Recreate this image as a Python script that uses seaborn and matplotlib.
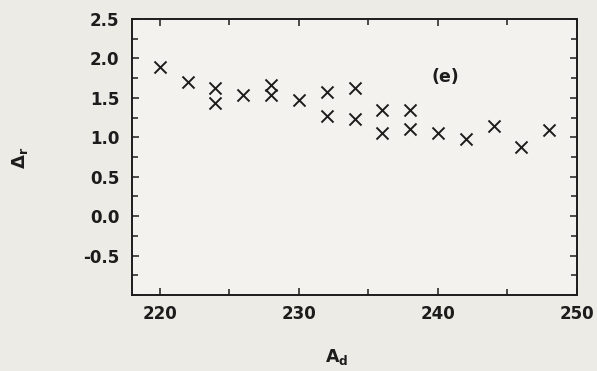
import matplotlib
matplotlib.use("Agg")
import matplotlib.pyplot as plt
import seaborn as sns
import pandas as pd
from matplotlib.ticker import MultipleLocator

mass_number = [220, 222, 224, 224, 226, 228, 228, 230, 232, 232, 234, 234,
               236, 236, 238, 238, 240, 242, 244, 246, 248]
delta_r = [1.89, 1.70, 1.63, 1.44, 1.54, 1.66, 1.54, 1.47, 1.57, 1.27, 1.62, 1.23,
           1.35, 1.05, 1.34, 1.10, 1.06, 0.98, 1.14, 0.88, 1.09]
x_ticks = [220, 230, 240, 250]
y_ticks = [-0.5, 0.0, 0.5, 1.0, 1.5, 2.0, 2.5]
panel_label = "(e)"

df = pd.DataFrame({"A": mass_number, "D": delta_r})

sns.set_theme(style="ticks")
plt.rcParams['font.family'] = ['DejaVu Sans']
plt.rcParams['mathtext.fontset'] = 'custom'
plt.rcParams['mathtext.rm'] = 'DejaVu Sans:bold'
plt.rcParams['mathtext.it'] = 'DejaVu Sans:bold'
plt.rcParams['mathtext.bf'] = 'DejaVu Sans:bold'

ink = '#1c1c1c'
fig = plt.figure(figsize=(5.97, 3.71), dpi=100, facecolor='#ecebe5')
ax = fig.add_axes([132/597, 1-295/371, (577-132)/597, (295-19)/371])
ax.set_facecolor('#f3f2ee')

sns.scatterplot(data=df, x="A", y="D", marker="x", s=75, color=ink,
                linewidth=1.4, ax=ax, legend=False)

ax.set_xlim(218, 250)
ax.set_ylim(-1.0, 2.5)
ax.set_xticks(x_ticks)
ax.set_yticks(y_ticks)
ax.set_yticklabels([f"{v:.1f}" for v in y_ticks])
ax.xaxis.set_minor_locator(MultipleLocator(5))
ax.yaxis.set_minor_locator(MultipleLocator(0.25))
ax.tick_params(which='both', direction='in', top=True, right=True,
               color=ink, width=1.1)
ax.tick_params(which='major', length=5)
ax.tick_params(which='minor', length=4)
ax.tick_params(axis='y', which='major', pad=9, labelsize=12, labelcolor=ink)
ax.tick_params(axis='x', which='major', pad=7, labelsize=12, labelcolor=ink)
for lab in ax.get_xticklabels() + ax.get_yticklabels():
    lab.set_fontweight('bold')
for sp in ax.spines.values():
    sp.set_linewidth(1.4)
    sp.set_color(ink)
ax.set_xlabel("")
ax.set_ylabel("")

ax.text(240.5, 1.77, panel_label, fontsize=12.5, fontweight='bold',
        ha='center', va='center', color=ink)

fig.text(337/597, 1-357/371, r"A$_{\rm d}$", fontsize=12.5, fontweight='bold',
         ha='center', va='center', color=ink)
fig.text(20/597, 1-158/371, r"$\Delta_{\rm r}$", fontsize=13, fontweight='bold',
         rotation=90, ha='center', va='center', color=ink)

fig.savefig("out.png", dpi=100, facecolor=fig.get_facecolor())
